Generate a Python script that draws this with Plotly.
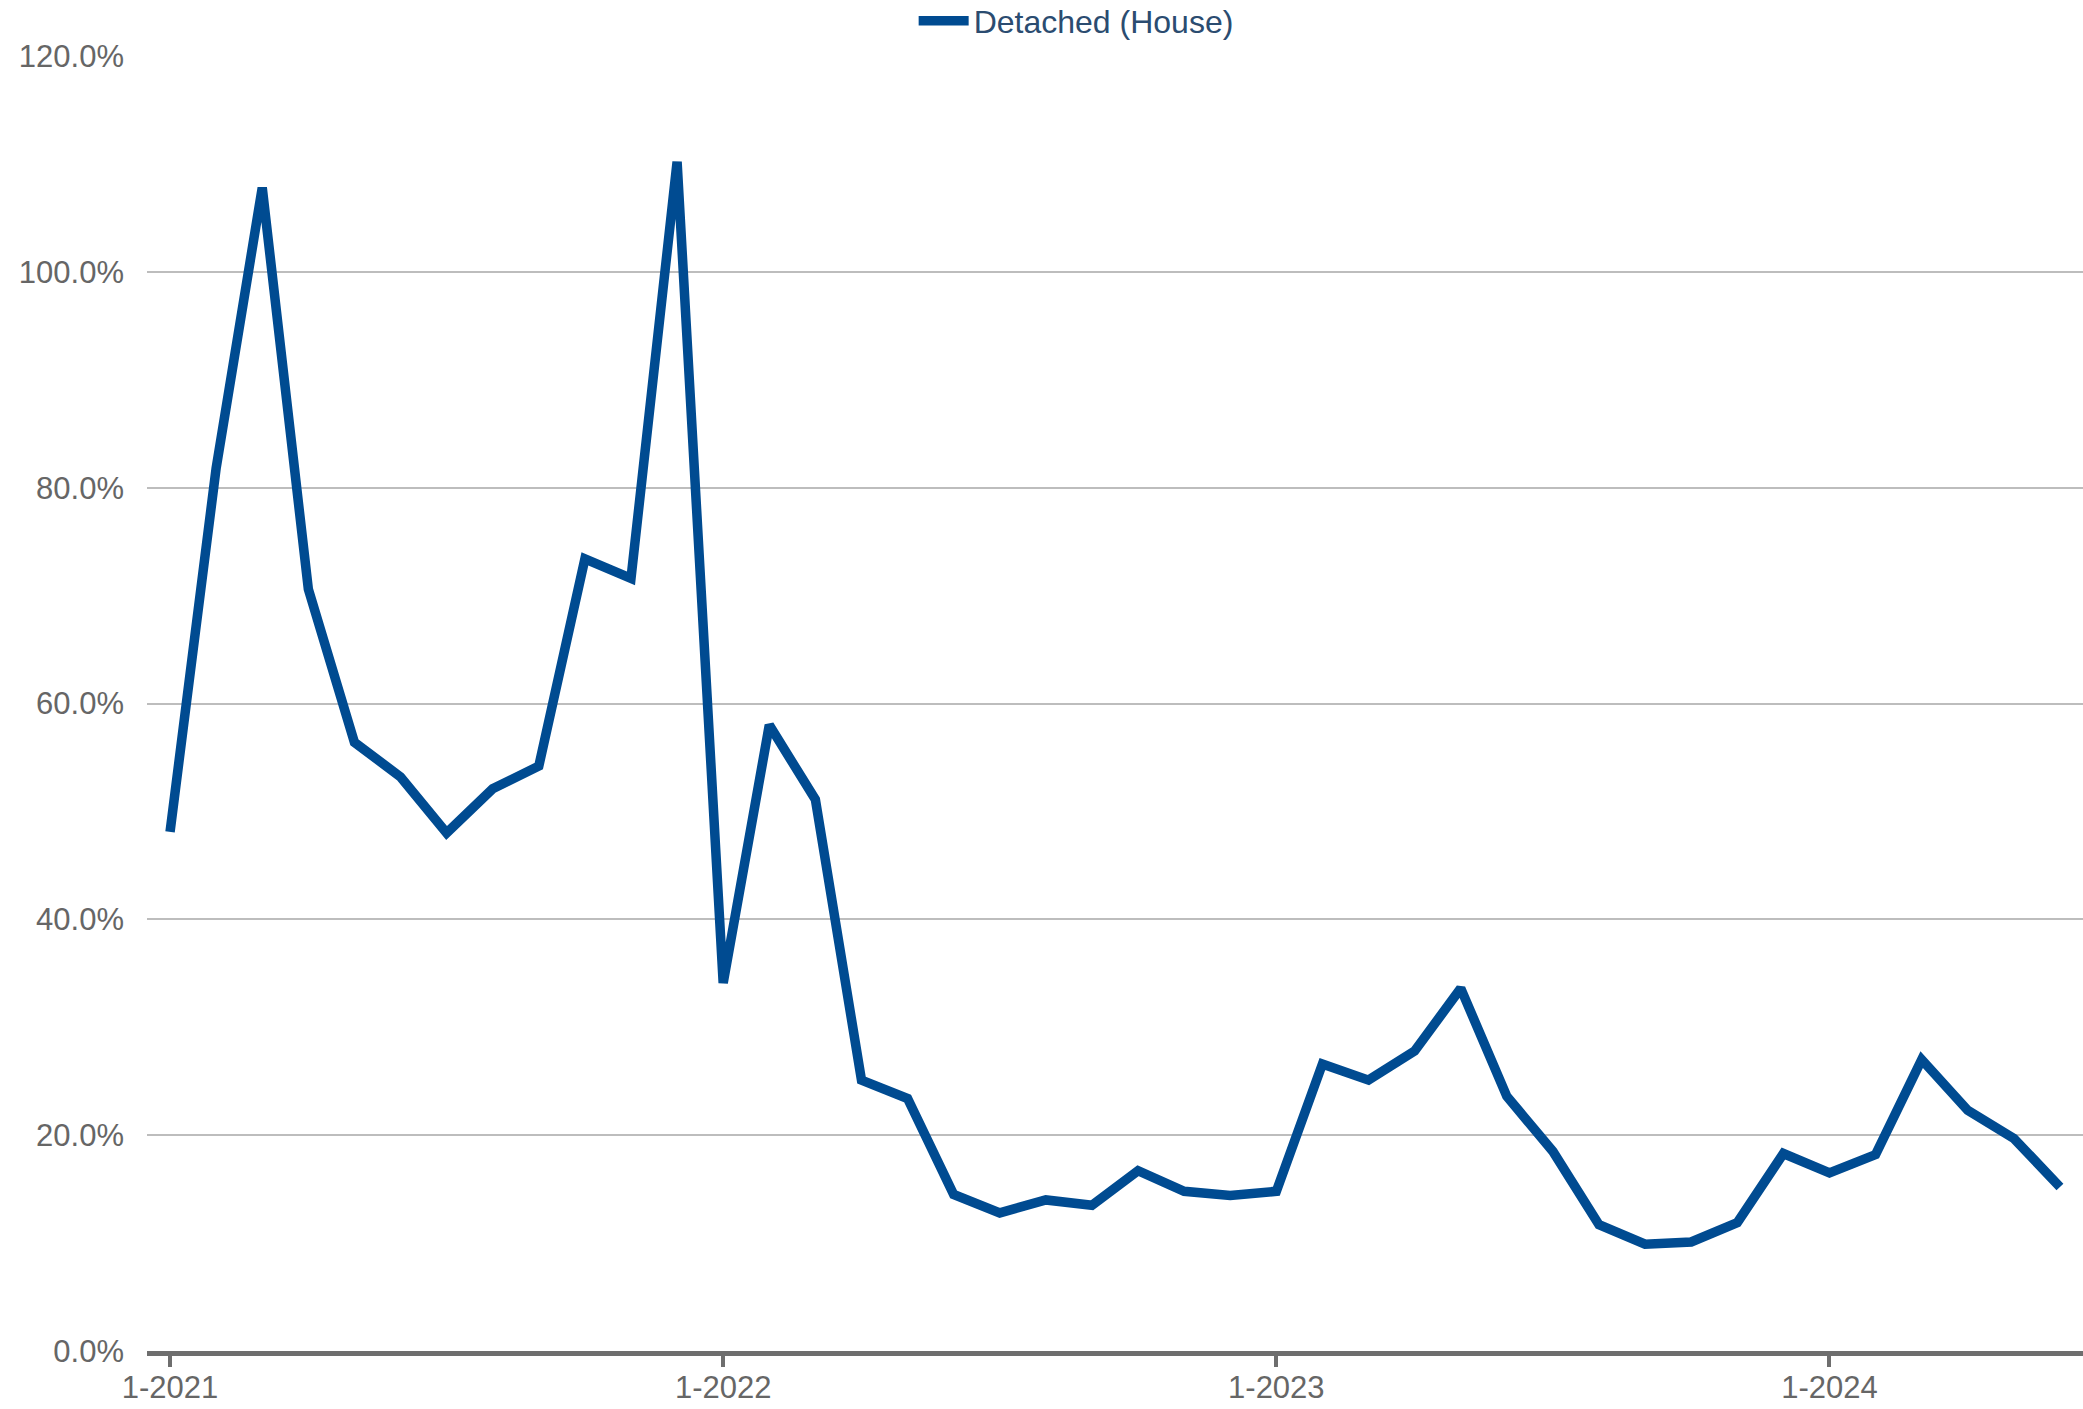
import plotly.graph_objects as go

# monthly labels, Jan 2021 .. Jun 2024
months = [
    "1-2021", "2-2021", "3-2021", "4-2021", "5-2021", "6-2021",
    "7-2021", "8-2021", "9-2021", "10-2021", "11-2021", "12-2021",
    "1-2022", "2-2022", "3-2022", "4-2022", "5-2022", "6-2022",
    "7-2022", "8-2022", "9-2022", "10-2022", "11-2022", "12-2022",
    "1-2023", "2-2023", "3-2023", "4-2023", "5-2023", "6-2023",
    "7-2023", "8-2023", "9-2023", "10-2023", "11-2023", "12-2023",
    "1-2024", "2-2024", "3-2024", "4-2024", "5-2024", "6-2024",
]

detached = [
    48.1, 81.8, 107.8, 70.6, 56.4, 53.2, 48.0, 52.1, 54.2, 73.4, 71.6, 110.2,
    34.1, 58.0, 51.1, 25.1, 23.4, 14.5, 12.8, 14.0, 13.5, 16.7, 14.8, 14.4,
    14.8, 26.6, 25.1, 27.8, 33.6, 23.6, 18.5, 11.7, 9.9, 10.1, 11.9, 18.3,
    16.5, 18.2, 27.0, 22.3, 19.7, 15.2,
]

x_ticks = ["1-2021", "1-2022", "1-2023", "1-2024"]
y_ticks = [0, 20, 40, 60, 80, 100, 120]
y_labels = ["0.0%", "20.0%", "40.0%", "60.0%", "80.0%", "100.0%", "120.0%"]

font_family = "Liberation Sans, Arial, sans-serif"

fig = go.Figure()
fig.add_trace(go.Scatter(
    x=months,
    y=detached,
    mode="lines",
    name="Detached (House)",
    line=dict(color="#004B91", width=9.5),
))

fig.update_layout(
    width=2083,
    height=1409,
    # fixed margins so the legend in the top strip doesn't push the plot down
    margin=dict(l=147, r=0, t=56, b=58, autoexpand=False),
    paper_bgcolor="white",
    plot_bgcolor="white",
    font=dict(family=font_family, size=31, color="#666666"),
    showlegend=True,
    legend=dict(
        orientation="h",
        x=0.396, xanchor="left",
        y=1.027, yanchor="middle",
        font=dict(size=32, color="#2B4C70"),
        bgcolor="rgba(0,0,0,0)",
        itemwidth=50,
    ),
)

fig.update_xaxes(
    type="category",
    range=[-0.5, len(months) - 0.5],
    tickvals=x_ticks,
    ticktext=x_ticks,
    showgrid=False,
    showline=True,
    linecolor="#6E6E6E",
    linewidth=5,
    ticks="outside",
    ticklen=11,
    tickwidth=4,
    tickcolor="#6E6E6E",
    ticklabelstandoff=-6,
    tickfont=dict(size=31, color="#666666"),
    zeroline=False,
)

fig.update_yaxes(
    range=[0, 120],
    tickvals=y_ticks,
    ticktext=y_labels,
    showgrid=True,
    gridcolor="#BDBDBD",
    gridwidth=2,
    zeroline=False,
    showline=False,
    ticks="",
    ticklabelstandoff=22,
    tickfont=dict(size=31, color="#666666"),
)

fig.write_html(
    "out.html",
    config={"displayModeBar": False},
    post_script="document.body.style.margin='0';document.body.style.overflow='hidden';",
)
